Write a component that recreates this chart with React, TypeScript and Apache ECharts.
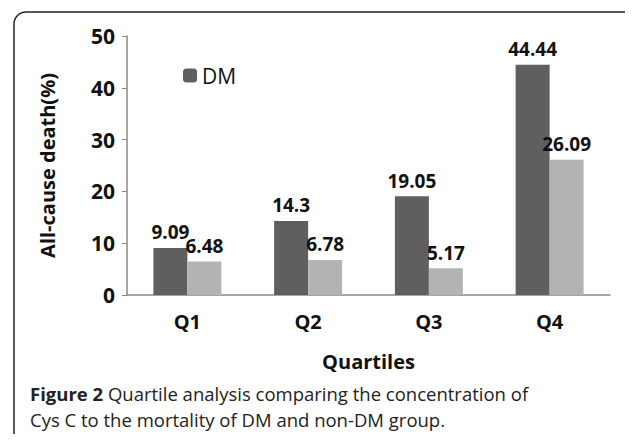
import React, { useEffect, useRef } from 'react';
import * as echarts from 'echarts';

const categories = ['Q1', 'Q2', 'Q3', 'Q4'];
const dmValues = [9.09, 14.3, 19.05, 44.44];
const nonDmValues = [6.48, 6.78, 5.17, 26.09];
const yTicks = [0, 10, 20, 30, 40, 50];

const FONT = '"Open Sans", sans-serif';

const App = () => {
  const chartRef = useRef<HTMLDivElement>(null);

  useEffect(() => {
    if (!chartRef.current) return;
    const chart = echarts.init(chartRef.current, null, { renderer: 'svg' });

    const labelStyle = { show: true, position: 'top', distance: 6, color: '#111', fontFamily: FONT, fontWeight: 'bold', fontSize: 19 };

    chart.setOption({
      animation: false,
      backgroundColor: '#fff',
      textStyle: { fontFamily: FONT },
      graphic: [
        {
          type: 'rect',
          shape: { x: 14, y: 12, width: 640, height: 450, r: 12 },
          style: { fill: 'none', stroke: '#222', lineWidth: 1.5 },
        },
        {
          type: 'text',
          left: 30,
          top: 384,
          style: {
            text: '{b|Figure 2} Quartile analysis comparing the concentration of',
            fontFamily: FONT,
            fontSize: 18.5,
            fill: '#222',
            rich: { b: { fontWeight: 'bold', fontSize: 18.5, fontFamily: FONT, fill: '#222' } },
          },
        },
        {
          type: 'text',
          left: 30,
          top: 410,
          style: { text: 'Cys C to the mortality of DM and non-DM group.', fontFamily: FONT, fontSize: 18.5, fill: '#222' },
        },
      ],
      legend: {
        data: ['DM'],
        left: 178,
        top: 60,
        itemWidth: 14,
        itemHeight: 14,
        itemGap: 8,
        textStyle: { fontFamily: FONT, fontSize: 21, color: '#111' },
      },
      grid: { left: 127, right: 23, top: 36, bottom: 147 },
      xAxis: {
        type: 'category',
        data: categories,
        name: 'Quartiles',
        nameLocation: 'middle',
        nameGap: 56,
        nameTextStyle: { fontFamily: FONT, fontWeight: 'bold', fontSize: 20, color: '#111' },
        axisLine: { lineStyle: { color: '#888', width: 1.5 } },
        axisTick: { show: false },
        axisLabel: { margin: 16, fontFamily: FONT, fontWeight: 'bold', fontSize: 20, color: '#111' },
      },
      yAxis: {
        type: 'value',
        min: yTicks[0],
        max: yTicks[yTicks.length - 1],
        interval: 10,
        name: 'All-cause death(%)',
        nameLocation: 'middle',
        nameGap: 70,
        nameTextStyle: { fontFamily: FONT, fontWeight: 'bold', fontSize: 20, color: '#111' },
        axisLine: { show: true, lineStyle: { color: '#888', width: 1.5 } },
        axisTick: { show: true, length: 5, lineStyle: { color: '#888' } },
        splitLine: { show: false },
        axisLabel: { margin: 12, fontFamily: FONT, fontWeight: 'bold', fontSize: 21, color: '#111' },
      },
      series: [
        {
          name: 'DM',
          type: 'bar',
          data: dmValues,
          barWidth: 34,
          barGap: '0%',
          itemStyle: { color: '#5f5f5f' },
          label: labelStyle,
        },
        {
          name: 'non-DM',
          type: 'bar',
          data: nonDmValues,
          barWidth: 34,
          itemStyle: { color: '#b3b3b3' },
          label: labelStyle,
        },
      ],
    });

    return () => {
      chart.dispose();
    };
  }, []);

  return <div ref={chartRef} style={{ width: '633px', height: '442px', margin: '-8px' }}></div>;
};

export default App;
